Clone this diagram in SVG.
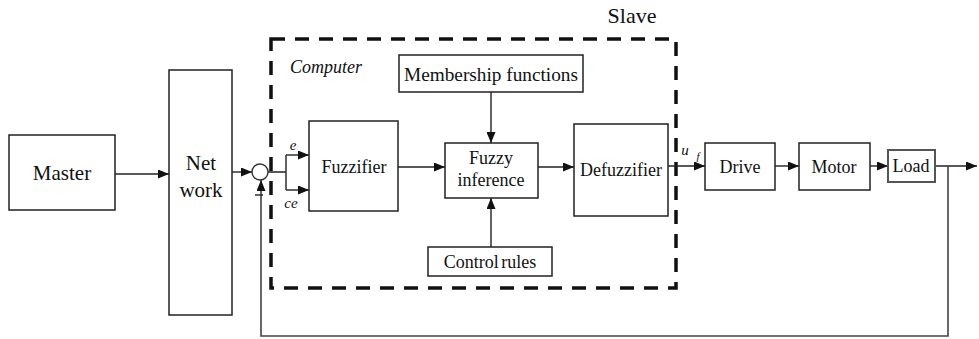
<svg xmlns="http://www.w3.org/2000/svg" width="979" height="339" viewBox="0 0 979 339">
<defs>
<marker id="arr" markerWidth="11" markerHeight="9" refX="11" refY="4.5" orient="auto" markerUnits="userSpaceOnUse">
<path d="M0,0 L11,4.5 L0,9 Z" fill="#111"/>
</marker>
<style>
.box{fill:#fff;stroke:#222;stroke-width:1.5}
.ln{fill:none;stroke:#222;stroke-width:1.4}
.t{font-family:"Liberation Serif","Times New Roman",serif;fill:#111;text-anchor:middle}
.it{font-style:italic}
</style>
</defs>
<rect width="979" height="339" fill="#fff"/>
<g id="slave">
<rect x="271" y="39" width="405" height="249" fill="none" stroke="#111" stroke-width="3.5" stroke-dasharray="14,10"/>
<text class="t" x="632" y="23" font-size="22">Slave</text>
<text class="t it" x="326" y="73" font-size="18">Computer</text>
</g>
<g id="connectors">
<path class="ln" d="M115,174 H169" marker-end="url(#arr)"/>
<path class="ln" d="M232,172 H252" marker-end="url(#arr)"/>
<path class="ln" d="M268,172 H286 M286,155 V190"/>
<path class="ln" d="M286,155 H309" marker-end="url(#arr)"/>
<path class="ln" d="M286,190 H309" marker-end="url(#arr)"/>
<path class="ln" d="M398,167 H445" marker-end="url(#arr)"/>
<path class="ln" d="M538,167 H574" marker-end="url(#arr)"/>
<path class="ln" d="M491,92 V143" marker-end="url(#arr)"/>
<path class="ln" d="M491,247 V198" marker-end="url(#arr)"/>
<path class="ln" d="M668,166 H705" marker-end="url(#arr)"/>
<path class="ln" d="M775,166 H799" marker-end="url(#arr)"/>
<path class="ln" d="M870,166 H888" marker-end="url(#arr)"/>
<path class="ln" d="M935,166 H977" marker-end="url(#arr)"/>
<path fill="none" stroke="#444" stroke-width="1.6" d="M948,166 V336 H261 V180" marker-end="url(#arr)"/>
<path class="ln" d="M255,195 H263" stroke="#333"/>
<text class="t it" x="293" y="150" font-size="15">e</text>
<text class="t it" x="291" y="208" font-size="15">ce</text>
<text class="t it" x="685" y="155" font-size="15">u</text>
<text class="t it" x="698" y="160" font-size="11">f</text>
</g>
<g id="master"><rect class="box" x="9" y="135" width="106" height="75"/><text class="t" x="62" y="180" font-size="21">Master</text></g>
<g id="network"><rect class="box" x="169" y="70" width="63" height="245"/><text class="t" x="201" y="170" font-size="21">Net</text><text class="t" x="201" y="197" font-size="21">work</text></g>
<g id="sum"><circle cx="260" cy="172" r="8" fill="#fff" stroke="#333" stroke-width="1.4"/></g>
<g id="fuzzifier"><rect class="box" x="309" y="121" width="89" height="90"/><text class="t" x="354" y="173" font-size="18">Fuzzifier</text></g>
<g id="membership"><rect class="box" x="399" y="55" width="184" height="37"/><text class="t" x="491" y="81" font-size="18" textLength="174" lengthAdjust="spacingAndGlyphs">Membership functions</text></g>
<g id="inference"><rect class="box" x="445" y="143" width="93" height="55"/><text class="t" x="491" y="164" font-size="18">Fuzzy</text><text class="t" x="491" y="186" font-size="18">inference</text></g>
<g id="defuzzifier"><rect class="box" x="574" y="124" width="94" height="92"/><text class="t" x="621" y="176" font-size="18">Defuzzifier</text></g>
<g id="control"><rect class="box" x="428" y="247" width="124" height="29"/><text class="t" x="490" y="268" font-size="18" word-spacing="-2">Control rules</text></g>
<g id="drive"><rect class="box" x="705" y="143" width="70" height="47"/><text class="t" x="740" y="173" font-size="18">Drive</text></g>
<g id="motor"><rect class="box" x="799" y="143" width="71" height="47"/><text class="t" x="834" y="173" font-size="18">Motor</text></g>
<g id="load"><rect x="888" y="150" width="47" height="32" fill="#fff" stroke="#555" stroke-width="2"/><text class="t" x="911" y="172" font-size="18">Load</text></g>
</svg>
